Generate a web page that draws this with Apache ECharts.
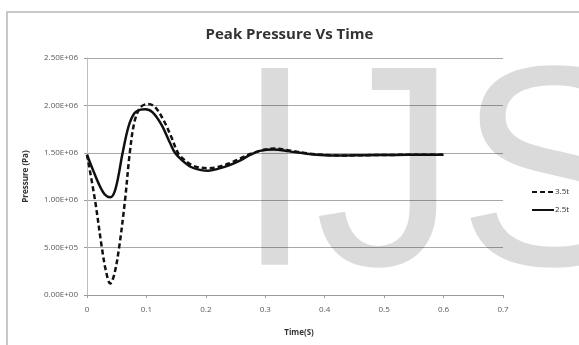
<!DOCTYPE html>
<html>
<head>
<meta charset="utf-8">
<script src="https://cdn.jsdelivr.net/npm/echarts@6/dist/echarts.min.js"></script>
<style>
  html, body { margin: 0; padding: 0; background: #fff; }
  #chart { width: 579px; height: 345px; }
</style>
</head>
<body>
<div id="chart"></div>
<script>
// time (s) and peak pressure (Pa)
const time25 = [0, 0.01, 0.02, 0.03, 0.039, 0.048, 0.06, 0.07, 0.08, 0.09, 0.098, 0.11, 0.125, 0.14, 0.148, 0.16, 0.175, 0.19, 0.204, 0.22, 0.24, 0.258, 0.275, 0.291, 0.314, 0.34, 0.37, 0.4, 0.43, 0.47, 0.52, 0.56, 0.6];
const pressure25 = [1.48e6, 1.32e6, 1.17e6, 1.06e6, 1.03e6, 1.12e6, 1.5e6, 1.78e6, 1.92e6, 1.955e6, 1.96e6, 1.93e6, 1.8e6, 1.6e6, 1.5e6, 1.42e6, 1.35e6, 1.32e6, 1.31e6, 1.33e6, 1.37e6, 1.42e6, 1.48e6, 1.52e6, 1.535e6, 1.515e6, 1.49e6, 1.475e6, 1.472e6, 1.475e6, 1.478e6, 1.48e6, 1.48e6];

const time35 = [0, 0.0135, 0.025, 0.032, 0.039, 0.046, 0.054, 0.064, 0.072, 0.08, 0.09, 0.103, 0.115, 0.13, 0.143, 0.153, 0.165, 0.18, 0.204, 0.22, 0.24, 0.258, 0.28, 0.3, 0.318, 0.34, 0.37, 0.4, 0.43, 0.47, 0.52, 0.56, 0.6];
const pressure35 = [1.48e6, 1.0e6, 0.5e6, 0.25e6, 0.12e6, 0.22e6, 0.5e6, 1.0e6, 1.5e6, 1.83e6, 1.98e6, 2.015e6, 1.98e6, 1.83e6, 1.65e6, 1.5e6, 1.42e6, 1.36e6, 1.337e6, 1.35e6, 1.39e6, 1.442e6, 1.5e6, 1.535e6, 1.545e6, 1.525e6, 1.495e6, 1.478e6, 1.472e6, 1.475e6, 1.478e6, 1.48e6, 1.48e6];

const seriesNames = ['3.5t', '2.5t'];

const pairs = (xs, ys) => xs.map((x, i) => [x, ys[i]]);

const sci = (v) => {
  if (v === 0) return '0.00E+00';
  const e = Math.floor(Math.log10(v) + 1e-9);
  return (v / Math.pow(10, e)).toFixed(2) + 'E+' + String(e).padStart(2, '0');
};

const AXIS_LABEL = { color: '#595959', fontSize: 8, fontFamily: 'Open Sans' };

const chart = echarts.init(document.getElementById('chart'));

chart.setOption({
  animation: false,
  title: {
    text: 'Peak Pressure Vs Time',
    left: 'center',
    top: 22,
    textStyle: { fontSize: 15, fontWeight: 'bold', color: '#333', fontFamily: 'Open Sans' },
  },
  grid: { left: 87, right: 76, top: 58, bottom: 50 },
  legend: {
    orient: 'vertical',
    left: 526,
    top: 183,
    itemWidth: 22,
    itemHeight: 8,
    itemGap: 10,
    itemStyle: { opacity: 0 },
    textStyle: { fontSize: 8, color: '#333', fontFamily: 'Open Sans', padding: [0, 0, 0, -4] },
    data: seriesNames,
  },
  xAxis: {
    type: 'value',
    min: 0,
    max: 0.7,
    interval: 0.1,
    name: 'Time(S)',
    nameLocation: 'middle',
    nameGap: 34,
    nameTextStyle: { fontSize: 8, fontWeight: 'bold', color: '#333', fontFamily: 'Open Sans', padding: [0, 0, 0, 8] },
    axisLine: { lineStyle: { color: '#9a9a9a', width: 1 } },
    axisTick: { show: true, length: 3, lineStyle: { color: '#9a9a9a' } },
    axisLabel: { ...AXIS_LABEL, margin: 11 },
    splitLine: { show: false },
  },
  yAxis: {
    type: 'value',
    min: 0,
    max: 2.5e6,
    interval: 5e5,
    name: 'Pressure (Pa)',
    nameLocation: 'middle',
    nameGap: 57,
    nameTextStyle: { fontSize: 8, fontWeight: 'bold', color: '#333', fontFamily: 'Open Sans' },
    axisLine: { show: true, lineStyle: { color: '#bdbdbd', width: 1 } },
    axisTick: { show: true, length: 3, lineStyle: { color: '#9a9a9a' } },
    axisLabel: { ...AXIS_LABEL, margin: 9, formatter: sci },
    splitLine: { show: true, lineStyle: { color: '#a8a8a8', width: 1 } },
  },
  series: [
    {
      name: seriesNames[0],
      type: 'line',
      data: pairs(time35, pressure35),
      smooth: 0.35,
      symbol: 'none',
      lineStyle: { color: '#111', width: 2.5, type: [5, 3] },
      itemStyle: { color: '#111' },
      z: 3,
    },
    {
      name: seriesNames[1],
      type: 'line',
      data: pairs(time25, pressure25),
      smooth: 0.35,
      symbol: 'none',
      lineStyle: { color: '#111', width: 2.5 },
      itemStyle: { color: '#111' },
      z: 2,
    },
  ],
  graphic: [
    {
      type: 'rect',
      silent: true,
      shape: { x: 7, y: 12, width: 620, height: 400 },
      style: { fill: 'none', stroke: '#c8c8c8', lineWidth: 2 },
      z: -1,
    },
    {
      type: 'text',
      silent: true,
      left: 235,
      top: 43,
      style: {
        text: 'IJS',
        font: '286px "Liberation Sans"',
        fill: 'rgba(0,0,0,0.14)',
      },
      z: 100,
    },
  ],
});
</script>
</body>
</html>
